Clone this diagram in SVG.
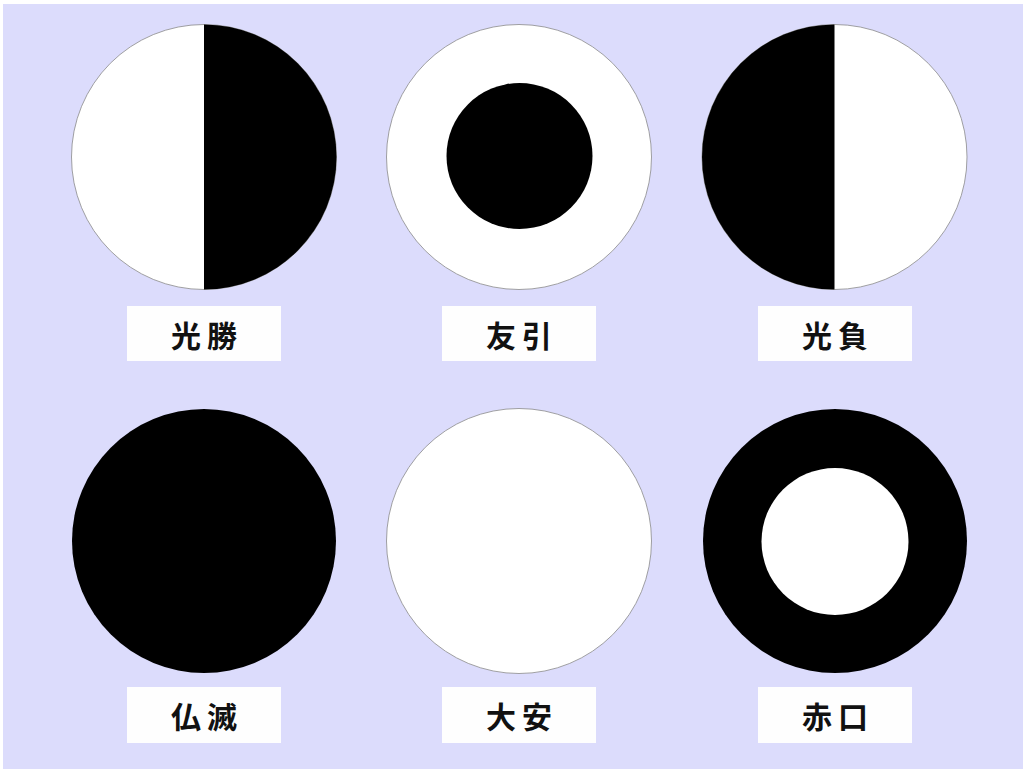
<svg xmlns="http://www.w3.org/2000/svg" width="1023" height="769" viewBox="0 0 1023 769">
<style>
.bg{fill:#dcdcfc}
.w{fill:#ffffff;stroke:#8a8a8a;stroke-width:0.8}
.b{fill:#000000}
.box{fill:#fefefe}
.lbl{font-family:"Noto Sans CJK JP","Noto Sans CJK SC",sans-serif;font-size:30px;font-weight:bold;fill:#111;text-anchor:middle;letter-spacing:6px}
</style>
<rect width="1023" height="769" fill="#ffffff"/>
<rect class="bg" x="3" y="4" width="1020" height="765"/>
<g id="senkachi">
<circle class="w" cx="204" cy="157" r="132.5"/>
<path class="b" d="M204,24.5 A132.5,132.5 0 0 1 204,289.5 Z"/>
<rect class="box" x="127" y="306" width="154" height="55"/>
<text class="lbl" x="207" y="347">光勝</text>
</g>
<g id="tomobiki">
<circle class="w" cx="519" cy="157" r="132.5"/>
<circle class="b" cx="519.5" cy="156" r="73"/>
<rect class="box" x="442" y="306" width="154" height="55"/>
<text class="lbl" x="522" y="347">友引</text>
</g>
<g id="senmake">
<circle class="w" cx="834.5" cy="157" r="132.5"/>
<path class="b" d="M834.5,24.5 A132.5,132.5 0 0 0 834.5,289.5 Z"/>
<rect class="box" x="758" y="306" width="154" height="55"/>
<text class="lbl" x="838" y="347">光負</text>
</g>
<g id="butsumetsu">
<circle class="b" cx="204" cy="541" r="132"/>
<rect class="box" x="127" y="687" width="154" height="56"/>
<text class="lbl" x="207" y="728">仏滅</text>
</g>
<g id="taian">
<circle class="w" cx="519" cy="541" r="132.5"/>
<rect class="box" x="442" y="687" width="154" height="56"/>
<text class="lbl" x="522" y="728">大安</text>
</g>
<g id="shakku">
<circle class="b" cx="835" cy="541" r="132"/>
<circle fill="#ffffff" cx="835" cy="541.5" r="73.5"/>
<rect class="box" x="758" y="687" width="154" height="56"/>
<text class="lbl" x="838" y="728">赤口</text>
</g>
<g id="connectors"></g>
</svg>
